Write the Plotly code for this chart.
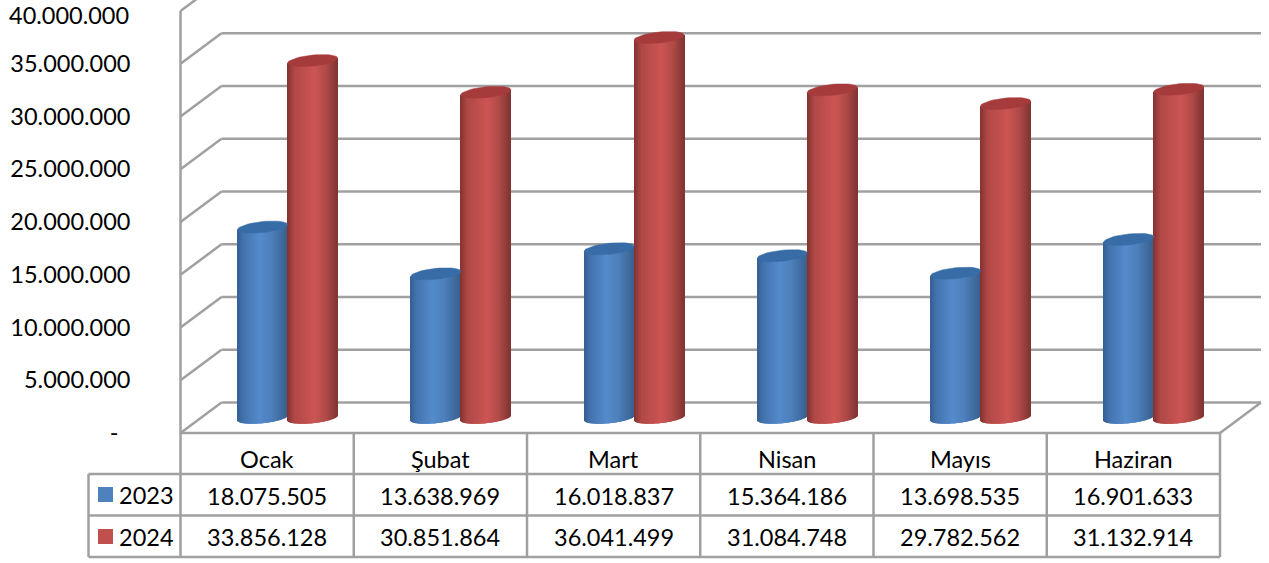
import math
import plotly.graph_objects as go

categories = ["Ocak", "Şubat", "Mart", "Nisan", "Mayıs", "Haziran"]
values_2023 = [18075505, 13638969, 16018837, 15364186, 13698535, 16901633]
values_2024 = [33856128, 30851864, 36041499, 31084748, 29782562, 31132914]
labels_2023 = ["18.075.505", "13.638.969", "16.018.837", "15.364.186", "13.698.535", "16.901.633"]
labels_2024 = ["33.856.128", "30.851.864", "36.041.499", "31.084.748", "29.782.562", "31.132.914"]
tick_values = [0, 5000000, 10000000, 15000000, 20000000, 25000000, 30000000, 35000000, 40000000]
tick_labels = ["-\u00a0\u00a0", "5.000.000", "10.000.000", "15.000.000", "20.000.000",
               "25.000.000", "30.000.000", "35.000.000", "40.000.000"]

W, H = 1269, 563
X0, X1 = 180.5, 1220.0      # front plane
Y0, Y40 = 433.0, 11.0
DX, DY = 41.0, 30.5         # full depth of the box
GRID = "#a0a0a0"
FONT = "Lato, Carlito, Calibri, sans-serif"
TXT = "#000000"
FS = 23.5

def px(x): return x / W
def py(y): return 1 - y / H

PPU = (Y0 - Y40) / 40e6     # pixels per unit on the value axis
CAT = (X1 - X0) / 6
BASE_Y = Y0 - DY / 2
BAR_DX = DX / 2
CYL = 50.0                  # cylinder width, px
B, T = 5.5, 2.5             # ellipse half-height, tilt half-rise, px
N = 50
PAD = 14.0                  # room under the value axis zero for the rounded feet

blue_stops = [(0, (52, 94, 145)), (.12, (66, 114, 173)), (.45, (84, 139, 204)), (.7, (76, 126, 186)), (1, (56, 96, 142))]
red_stops = [(0, (130, 50, 47)), (.15, (176, 72, 70)), (.55, (204, 85, 83)), (.8, (172, 72, 70)), (1, (128, 52, 50))]
blue_cap, red_cap = "#376ca6", "#a63b3c"

def ramp(stops, t):
    for (a, ca), (b, cb) in zip(stops, stops[1:]):
        if t <= b:
            f = (t - a) / (b - a)
            return "rgb(%d,%d,%d)" % tuple(round(p + (q - p) * f) for p, q in zip(ca, cb))
    return "rgb(%d,%d,%d)" % stops[-1][1]

fig = go.Figure()
idx = list(range(len(categories)))
# carrier trace so the front axes are drawn
fig.add_trace(go.Scatter(x=idx, y=[0] * 6, xaxis="x", yaxis="y", mode="markers",
                         marker=dict(opacity=0), showlegend=False, hoverinfo="skip"))

cw = CYL / CAT
for series, stops, cap, side in ((values_2023, blue_stops, blue_cap, -1), (values_2024, red_stops, red_cap, 0)):
    for k in range(N):
        u = (k + .5) / N * 2 - 1
        front = B * math.sqrt(max(0, 1 - u * u))
        low = (T * u - front) / PPU
        top_off = (T * u) / PPU
        fig.add_trace(go.Bar(
            x=idx, y=[v + top_off - low for v in series], base=[low] * 6,
            width=cw / N * 1.5 if k < N - 1 else cw / N, offset=[side * cw + cw * k / N] * 6,
            marker=dict(color=ramp(stops, (k + .5) / N), line=dict(width=0)),
            xaxis="x2", yaxis="y2", cliponaxis=False, showlegend=False, hoverinfo="skip"))
    for i, v in enumerate(series):
        c = i + (side + .5) * cw
        pts = [j / 48 * 2 * math.pi for j in range(49)]
        fig.add_trace(go.Scatter(
            x=[c + cw / 2 * math.cos(a) for a in pts],
            y=[v + (T * math.cos(a) + B * math.sin(a)) / PPU for a in pts],
            mode="lines", fill="toself", fillcolor=cap, line=dict(color=cap, width=0.5),
            xaxis="x2", yaxis="y2", cliponaxis=False, showlegend=False, hoverinfo="skip"))

shapes = []
def line(x0, y0, x1, y1, w=2.5, color=GRID, layer="below"):
    shapes.append(dict(type="line", xref="paper", yref="paper", x0=px(x0), y0=py(y0), x1=px(x1), y1=py(y1),
                       line=dict(color=color, width=w), layer=layer))

for v in tick_values:
    yy = Y0 - v * PPU
    line(X0, yy, X0 + DX, yy - DY)
    if v < 40000000:
        line(X0 + DX, yy - DY, X1 + DX, yy - DY)
line(X0, Y0, X1, Y0)
line(X1, Y0, X1 + DX, Y0 - DY)
line(X0, Y40, X0, Y0)

# data table frame
ROW = [433.0, 474.0, 515.5, 557.0]
for j in range(7):
    xx = X0 + j * CAT
    line(xx, Y0, xx, ROW[3], layer="above")
for r in ROW[1:]:
    line(88.5, r, X1, r, layer="above")
line(88.5, ROW[1], 88.5, ROW[3], layer="above")

for yy, col in ((494.5, "#4f81bd"), (536.5, "#c0504d")):
    shapes.append(dict(type="rect", xref="paper", yref="paper", x0=px(98), x1=px(113),
                       y0=py(yy - 7.5), y1=py(yy + 7.5), fillcolor=col, line=dict(width=0)))

ann = []
def txt(x, y, s, xref="paper", anchor="center"):
    ann.append(dict(x=x, y=py(y), xref=xref, yref="paper", text=s, showarrow=False,
                    xanchor=anchor, yanchor="middle", font=dict(family=FONT, size=FS, color=TXT)))

for i in idx:
    txt(i, 458.5, categories[i], "x")
    txt(i, 495.5, labels_2023[i], "x")
    txt(i, 536.5, labels_2024[i], "x")
txt(px(146), 494.5, "2023")
txt(px(146), 536.5, "2024")
# the top tick label sits at the page edge, where the axis would drop it
txt(px(131), 14.5, tick_labels[-1], anchor="right")

top_val = BASE_Y / PPU
fig.update_layout(
    width=W, height=H, margin=dict(l=0, r=0, t=0, b=0, pad=0, autoexpand=False),
    paper_bgcolor="white", plot_bgcolor="rgba(0,0,0,0)", barmode="overlay", showlegend=False,
    font=dict(family=FONT, size=FS, color=TXT),
    xaxis=dict(domain=[px(X0), px(X1)], range=[-.5, 5.5], type="linear", showgrid=False, zeroline=False,
               showticklabels=False, ticks="", anchor="y"),
    yaxis=dict(domain=[py(Y0), py(Y40)], range=[0, 40000000], tickvals=tick_values[:-1], ticktext=tick_labels[:-1],
               showgrid=False, zeroline=False, ticks="", anchor="x", ticklabelstandoff=49,
               automargin=False, tickfont=dict(family=FONT, size=FS, color=TXT)),
    xaxis2=dict(domain=[px(X0 + BAR_DX), px(X1 + BAR_DX)], range=[-.5, 5.5], type="linear", visible=False, anchor="y2"),
    yaxis2=dict(domain=[py(BASE_Y + PAD), 1], range=[-PAD / PPU, top_val], visible=False, anchor="x2"),
    shapes=shapes, annotations=ann,
)
fig.write_html("out.html", config=dict(displayModeBar=False),
               post_script="document.body.style.margin='0';")
